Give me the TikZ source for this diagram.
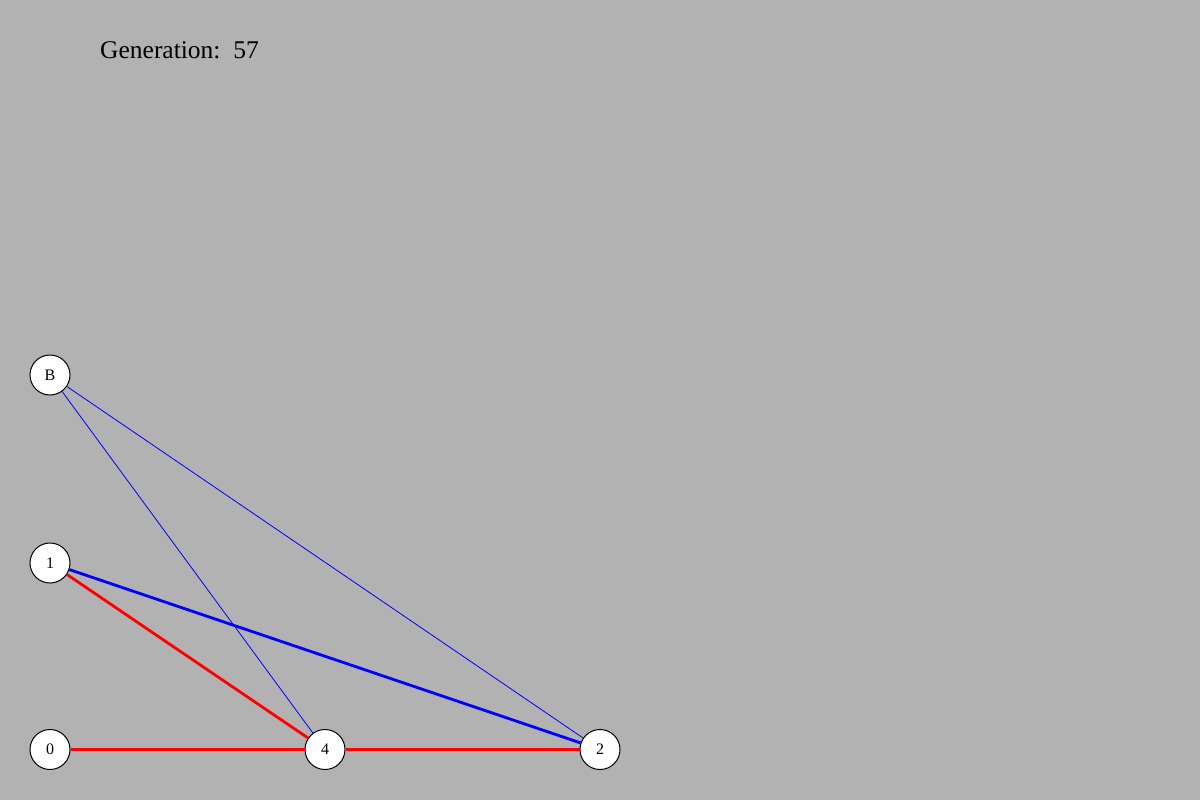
\documentclass[tikz,border=0pt]{standalone}
\usepackage{fontspec}
\setmainfont{Liberation Serif}
\begin{document}
\begin{tikzpicture}[x=1pt,y=-1pt,
  vert/.style={circle,draw=black,fill=white,line width=1pt,minimum size=40pt,inner sep=0pt,font=\fontsize{16}{16}\selectfont},
  thinblue/.style={draw={rgb,255:red,0;green,0;blue,255},line width=0.8pt},
  thickblue/.style={draw={rgb,255:red,0;green,0;blue,255},line width=2.8pt},
  rededge/.style={draw={rgb,255:red,255;green,0;blue,0},line width=2.8pt}]
\fill[color={rgb,255:red,178;green,178;blue,178}] (0,0) rectangle (1200,800);
\useasboundingbox (0,0) rectangle (1200,800);
\node[anchor=base west,inner sep=0pt,font=\fontsize{25.5}{26}\selectfont] (title) at (100,59) {Generation:\, 57};
\node[vert] (B) at (50,375) {B};
\node[vert] (n1) at (50,563) {1};
\node[vert] (n0) at (50,749.5) {0};
\node[vert] (n4) at (325,749.5) {4};
\node[vert] (n2) at (600,749.5) {2};
\path[thinblue] (B) -- (n4);
\path[thinblue] (B) -- (n2);
\path[thickblue] (n1) -- (n2);
\path[rededge] (n1) -- (n4);
\path[rededge] (n0) -- (n4);
\path[rededge] (n4) -- (n2);
\end{tikzpicture}
\end{document}
